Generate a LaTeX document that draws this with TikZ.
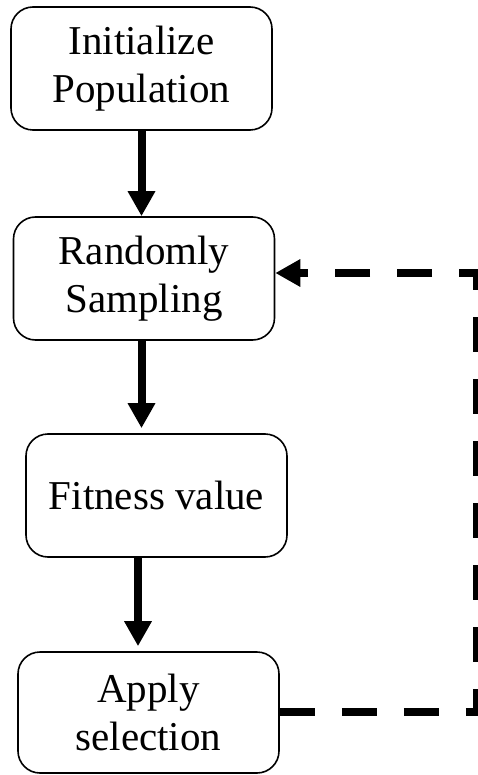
\documentclass[tikz,border=0pt]{standalone}
\usepackage{fontspec}
\setmainfont{Liberation Serif}
\usetikzlibrary{arrows.meta}

\begin{document}
\begin{tikzpicture}[x=1pt, y=-1pt,
	stepbox/.style={draw=black, line width=1.6pt, rounded corners=22pt, inner sep=0pt,
		minimum width=261pt, minimum height=123pt, align=center,
		font=\fontsize{41}{48}\selectfont},
	flow/.style={line width=8pt, -{Triangle[width=26pt,length=25pt]}},
	loop/.style={line width=8.5pt, dash pattern=on 35pt off 27pt,
		-{Triangle[width=26pt,length=25pt]}}]

	\useasboundingbox (0, 0) rectangle (477, 775);

	\node[stepbox] (init) at (141.5, 68.5)  {Initialize\\Population};
	\node[stepbox] (samp) at (144, 278.5)   {Randomly\\Sampling};
	\node[stepbox] (fit)  at (156.5, 495.5) {Fitness value};
	\node[stepbox, minimum height=121pt] (sel) at (148.5, 712.5) {Apply\\selection};

	\coordinate (turn) at (477.5, 712);

	\draw[flow] (init.south) -- (init.south |- samp.north);
	\draw[flow, shorten >=5pt] (samp.south -| init.south) -- (init.south |- fit.north);
	\draw[flow, shorten >=5pt] ([xshift=-3.5pt]fit.south -| init.south) -- ([xshift=-3.5pt]init.south |- sel.north);
	\draw[loop] (sel.east |- turn) -- (turn) |- ([yshift=5.5pt]samp.east);

\end{tikzpicture}
\end{document}
